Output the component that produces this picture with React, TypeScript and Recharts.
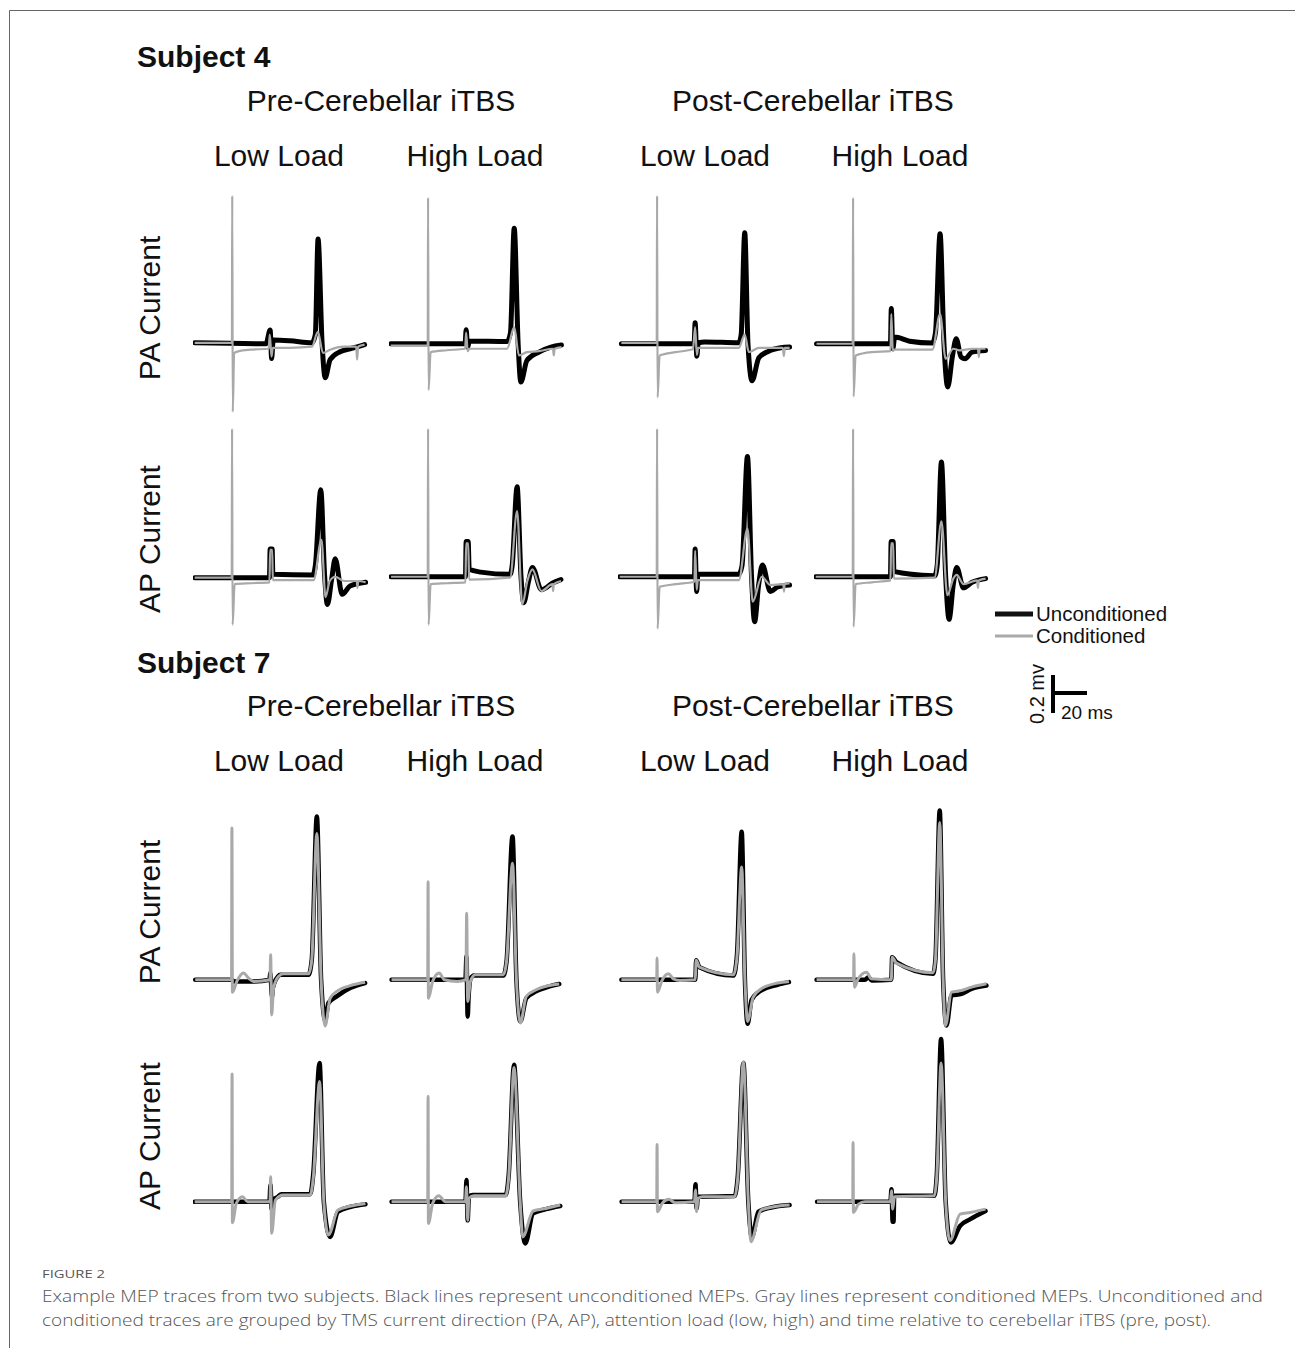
import { Line, LineChart, XAxis, YAxis } from "recharts";

// time in ms relative to the TMS pulse, amplitude in mV
// S4 = Subject 4, S7 = Subject 7; PA / AP current; pre/post iTBS; low/high load
const s4PaPreLowUnc = [[-45,0.005],[-3,0],[-0.6,0.075],[0.3,-0.08],[1.2,0.02],[11,0.016],[24,0.005],[26,0.05],[27.6,0.566],[30,0],[31.8,-0.184],[34.7,-0.086],[40.6,-0.043],[46.5,-0.027],[51,-0.016],[55,-0.005]];
const s4PaPreLowCon = [[-45,0.005],[-23.1,0.005],[-22.9,0.8],[-22.6,-0.368],[-21.8,-0.05],[-19,-0.04],[-12,-0.032],[-1.5,-0.027],[-0.8,0.05],[0.2,-0.07],[1,-0.022],[11,-0.022],[24,-0.016],[27.5,0.065],[30.5,-0.05],[34.7,-0.032],[43,-0.016],[50,-0.016],[50.6,-0.085],[51.2,-0.016],[55,-0.005]];

const s4PaPreHighUnc = [[-45,0],[-1.2,0],[-0.6,0.076],[0.3,-0.02],[1.2,0.014],[23.5,0.012],[25.5,0.06],[27.7,0.625],[30,0],[31.6,-0.207],[35.2,-0.09],[42.3,-0.045],[49.3,-0.018],[55.5,-0.007]];
const s4PaPreHighCon = [[-45,-0.01],[-23.2,-0.01],[-23,0.79],[-22.7,-0.25],[-21.5,-0.045],[-12,-0.035],[-1.2,-0.027],[-0.6,0.06],[0.3,-0.04],[1.2,-0.027],[23.5,-0.027],[27.7,0.09],[30.5,-0.063],[35.2,-0.045],[42.3,-0.04],[50.5,-0.027],[51,-0.063],[51.5,-0.027],[55.5,-0.018]];

const s4PaPostLowUnc = [[-44,0],[-1.2,0],[-0.6,0.113],[0.4,-0.067],[1.2,0.005],[5,0.01],[25.1,0.005],[26.5,0.05],[28.6,0.6],[30.5,0],[32.9,-0.2],[36.9,-0.076],[42.7,-0.04],[49.8,-0.022],[55,-0.018]];
const s4PaPostLowCon = [[-44,0.005],[-23.2,0.005],[-23,0.8],[-22.7,-0.29],[-21.5,-0.063],[-12,-0.045],[-1.9,-0.03],[-0.6,0.09],[0.4,-0.06],[1.2,-0.022],[25.1,-0.022],[28.6,0.05],[31,-0.045],[37,-0.022],[51,-0.022],[51.6,-0.067],[52.2,-0.022],[55,-0.022]];

const s4PaPostHighUnc = [[-44.5,0],[-1,0],[-0.5,0.19],[0.4,-0.027],[1.5,0.036],[10.2,0.014],[23.7,0.004],[25.5,0.06],[28.2,0.595],[30.5,0],[32.7,-0.234],[35.4,-0.072],[37.7,0.027],[40.6,-0.072],[43,-0.081],[47,-0.045],[55,-0.036]];
const s4PaPostHighCon = [[-44.5,0],[-23.2,0],[-23,0.79],[-22.7,-0.285],[-21.5,-0.063],[-12,-0.045],[-1,-0.04],[-0.5,0.16],[0.4,-0.04],[1.5,-0.032],[23.7,-0.032],[28.2,0.16],[31.5,-0.081],[36,-0.027],[39.5,-0.036],[47,-0.027],[50.5,-0.027],[51,-0.072],[51.5,-0.027],[55,-0.027]];

const s4ApPreLowUnc = [[-45,-0.005],[-1,-0.005],[-0.6,0.15],[0.6,0.15],[1,0.013],[24.6,0.009],[26,0.06],[29.2,0.47],[31.5,0],[33.1,-0.15],[35.5,-0.02],[37.7,0.097],[41.8,-0.095],[46.4,-0.05],[55.6,-0.03]];
const s4ApPreLowCon = [[-45,-0.005],[-23.2,-0.005],[-23,0.8],[-22.7,-0.26],[-21.5,-0.04],[-12,-0.035],[-1,-0.03],[-0.6,0.145],[0.6,0.145],[1,-0.018],[25,-0.018],[29.6,0.2],[32,-0.11],[34.5,-0.023],[37.7,0],[43,-0.023],[50.4,-0.023],[50.8,-0.06],[51.2,-0.023],[55.6,-0.03]];

const s4ApPreHighUnc = [[-44.8,0],[-1,0],[-0.6,0.19],[0.6,0.19],[1.2,0.04],[8,0.025],[25.3,0.013],[26.5,0.06],[29.4,0.486],[31.7,0],[33.3,-0.14],[36,-0.03],[38.4,0.05],[43.7,-0.07],[50.6,-0.032],[55.2,-0.015]];
const s4ApPreHighCon = [[-44.8,0],[-23.2,0],[-23,0.8],[-22.7,-0.26],[-21.5,-0.04],[-12,-0.035],[-1,-0.03],[-0.6,0.18],[0.6,0.18],[1.2,-0.015],[25.3,-0.005],[29.4,0.355],[32.4,-0.15],[35.5,-0.02],[38.4,0.04],[43.7,-0.077],[50.2,-0.04],[50.6,-0.077],[51,-0.04],[55.2,-0.023]];

const s4ApPostLowUnc = [[-45,0],[-1,0],[-0.6,0.15],[0.3,-0.08],[1,0.013],[25.1,0.013],[27,0.06],[30.2,0.65],[32.6,0],[34.4,-0.243],[36.7,-0.05],[39,0.063],[43.7,-0.08],[48,-0.055],[55,-0.045]];
const s4ApPostLowCon = [[-45,0],[-23.2,0],[-23,0.8],[-22.7,-0.28],[-21.5,-0.054],[-12,-0.04],[-1,-0.027],[-0.6,0.14],[0.3,-0.07],[1,-0.018],[25.1,-0.018],[30.2,0.26],[33.3,-0.135],[38.6,0],[43.7,-0.045],[51.3,-0.04],[51.7,-0.08],[52.1,-0.04],[55,-0.036]];

const s4ApPostHighUnc = [[-45,0],[-1,0],[-0.6,0.19],[0.6,0.19],[1,0.03],[10,0.015],[25,0.005],[26.5,0.06],[29,0.62],[31.5,0],[33.5,-0.23],[36,-0.04],[38,0.05],[42,-0.06],[47,-0.03],[55,-0.01]];
const s4ApPostHighCon = [[-45,0],[-23.2,0],[-23,0.8],[-22.7,-0.27],[-21.5,-0.04],[-12,-0.03],[-1,-0.02],[-0.6,0.18],[0.6,0.18],[1,-0.01],[25,-0.005],[29,0.3],[32.5,-0.1],[36,-0.01],[38,0.01],[42,-0.04],[50,-0.02],[50.5,-0.06],[51,-0.02],[55,-0.01]];

const s7PaPreLowUnc = [[-44.7,0],[-23,0],[-22,-0.01],[-10,-0.009],[-1,0],[-0.5,0.036],[0.5,-0.09],[1,-0.045],[4,0.018],[5.5,0.027],[22,0.027],[23.9,0.108],[26.9,0.883],[29.4,0],[31.8,-0.216],[33.7,-0.126],[38.6,-0.09],[46.5,-0.045],[55.3,-0.018]];
const s7PaPreLowCon = [[-44.7,0],[-23.3,0],[-23.1,0.82],[-22.8,-0.068],[-20.2,-0.009],[-16.3,0.036],[-13.3,0.009],[-10.4,-0.009],[-0.7,0],[-0.3,0.135],[0.3,-0.19],[1.4,-0.045],[4.3,0.018],[7.2,0.032],[22,0.032],[23.9,0.108],[26.9,0.79],[29.4,0],[31.8,-0.25],[34.7,-0.1],[38.6,-0.063],[46.5,-0.032],[55.3,-0.014]];

const s7PaPreHighUnc = [[-44.5,0],[-1,0],[-0.4,0.126],[0.3,-0.2],[0.8,-0.1],[2,0.005],[4,0.023],[21.3,0.023],[23.2,0.1],[26.7,0.775],[29,0],[31.3,-0.225],[34.8,-0.1],[40.6,-0.063],[48.4,-0.036],[54.2,-0.023]];
const s7PaPreHighCon = [[-44.5,0],[-23.2,0],[-23,0.53],[-22.8,-0.1],[-20.3,-0.009],[-16.4,0.036],[-13.5,0],[-5.8,-0.009],[-0.7,0],[-0.3,0.36],[0.3,-0.117],[1.9,-0.009],[4.8,0.027],[21.3,0.027],[23.2,0.1],[26.7,0.63],[29,0],[31.3,-0.234],[34.8,-0.09],[40.6,-0.054],[48.4,-0.031],[54.2,-0.023]];

const s7PaPostLowUnc = [[-44,0],[-0.5,0],[0,0.105],[1.9,0.068],[22,0.023],[24,0.131],[26.8,0.8],[28.7,0],[30.3,-0.238],[32.6,-0.11],[38.3,-0.058],[47.9,-0.027],[54.6,-0.013]];
const s7PaPostLowCon = [[-44,0],[-23.2,0],[-23,0.117],[-22.8,-0.067],[-20.1,-0.004],[-16.3,0.032],[-13.4,0.005],[-9.6,-0.004],[-0.5,0],[0,0.105],[1.9,0.068],[22,0.027],[24,0.12],[26.8,0.61],[28.7,0],[30.3,-0.225],[33.5,-0.095],[38.3,-0.049],[47.9,-0.018],[54.6,-0.009]];

const s7PaPostHighUnc = [[-44.5,0],[-16,0],[-14,0.014],[-12,-0.004],[-0.5,0],[0,0.122],[2.5,0.095],[24.1,0.032],[25.5,0.114],[28,0.915],[30,0],[32,-0.247],[34.9,-0.085],[40.8,-0.076],[46.7,-0.049],[55.5,-0.031]];
const s7PaPostHighCon = [[-44.5,0],[-22.7,0],[-22.5,0.14],[-22.2,-0.04],[-20,0.005],[-15.1,0.041],[-12.2,0.005],[-0.5,0],[0,0.122],[2.5,0.09],[24.1,0.038],[25.5,0.11],[28,0.85],[30,0],[31.4,-0.247],[34.9,-0.067],[40.8,-0.058],[46.7,-0.04],[55.5,-0.022]];

const s7ApPreLowUnc = [[-45,0],[-1,0],[-0.4,0.09],[0.3,-0.04],[1,0.01],[4,0.027],[6,0.041],[23,0.041],[24.8,0.153],[28.5,0.75],[31,0],[34.7,-0.19],[39.3,-0.054],[47,-0.027],[55.5,-0.013]];
const s7ApPreLowCon = [[-45,0],[-23.2,0],[-23,0.69],[-22.8,-0.113],[-20.5,-0.009],[-16.9,0.027],[-13.8,0],[-5,0],[-0.7,0],[-0.3,0.135],[0.3,-0.17],[2.5,0.009],[7,0.036],[23,0.036],[24.8,0.13],[28.5,0.65],[31,0],[33.7,-0.18],[39.3,-0.045],[47,-0.023],[55.5,-0.009]];

const s7ApPreHighUnc = [[-44.5,0],[-1,0],[-0.4,0.117],[0.3,-0.1],[1,0.027],[3.3,0.036],[22.7,0.036],[24.5,0.15],[27.6,0.74],[31.2,0],[34.2,-0.225],[38.8,-0.063],[46.4,-0.04],[54.8,-0.023]];
const s7ApPreHighCon = [[-44.5,0],[-23.2,0],[-23,0.57],[-22.8,-0.117],[-20.3,-0.009],[-16.7,0.032],[-12.7,0],[-1,0],[-0.4,0.081],[0.3,-0.1],[1,0.018],[3.9,0.032],[22.7,0.032],[24.5,0.14],[27.6,0.726],[31.2,0],[32.7,-0.19],[38.8,-0.05],[46.4,-0.036],[54.8,-0.018]];

const s7ApPostLowUnc = [[-43.9,0],[-1,0],[-0.4,0.095],[0.3,-0.036],[1,0.027],[3,0.027],[22.7,0.031],[24.5,0.14],[27.8,0.75],[30.7,0],[32.8,-0.19],[36.7,-0.054],[44.2,-0.031],[55,-0.018]];
const s7ApPostLowCon = [[-43.9,0],[-23.2,0],[-23,0.31],[-22.8,-0.054],[-20,-0.009],[-16.1,0.013],[-12.5,-0.005],[-1,0],[-0.4,0.063],[0.3,-0.054],[1,0.018],[3.9,0.027],[22.7,0.027],[24.5,0.13],[27.8,0.757],[30.7,0],[32.2,-0.216],[38.2,-0.045],[45.7,-0.027],[55,-0.018]];

const s7ApPostHighUnc = [[-44.2,0],[-1,0],[-0.4,0.068],[0.3,-0.108],[0.8,-0.108],[1.2,0.032],[24.8,0.032],[26.3,0.15],[28.8,0.88],[31.5,0],[34.5,-0.22],[40,-0.13],[46,-0.094],[55,-0.05]];
const s7ApPostHighCon = [[-44.2,0],[-23.2,0],[-23,0.32],[-22.8,-0.058],[-19.8,-0.013],[-16,0],[-1,0],[-0.4,0.06],[0.3,-0.04],[1.4,0.027],[24.8,0.032],[26.3,0.14],[28.8,0.75],[31.5,0],[34,-0.21],[40,-0.067],[46,-0.058],[55,-0.04]];

const rowLabels = ["PA Current", "AP Current"];
const timeLabels = ["Pre-Cerebellar iTBS", "Post-Cerebellar iTBS"];
const loadLabels = ["Low Load", "High Load", "Low Load", "High Load"];

const colTms = [271, 467, 696, 892];
const rowBase = [344, 577, 980, 1202];

const panels = [
  [s4PaPreLowUnc, s4PaPreLowCon], [s4PaPreHighUnc, s4PaPreHighCon], [s4PaPostLowUnc, s4PaPostLowCon], [s4PaPostHighUnc, s4PaPostHighCon],
  [s4ApPreLowUnc, s4ApPreLowCon], [s4ApPreHighUnc, s4ApPreHighCon], [s4ApPostLowUnc, s4ApPostLowCon], [s4ApPostHighUnc, s4ApPostHighCon],
  [s7PaPreLowUnc, s7PaPreLowCon], [s7PaPreHighUnc, s7PaPreHighCon], [s7PaPostLowUnc, s7PaPostLowCon], [s7PaPostHighUnc, s7PaPostHighCon],
  [s7ApPreLowUnc, s7ApPreLowCon], [s7ApPreHighUnc, s7ApPreHighCon], [s7ApPostLowUnc, s7ApPostLowCon], [s7ApPostHighUnc, s7ApPostHighCon],
];

const PX_MS = 1.7;
const PX_MV = 185;
const T0 = -46, T1 = 57;
const V0 = -0.45, V1 = 0.95;
const FONT = "'Liberation Sans', Arial, sans-serif";
const GRAY = "#a9a9a9";

const pts = (a: number[][]) => a.map(([t, v]) => ({ t, v }));

function Trace({ tms, base, unc, con, s7 }: { tms: number; base: number; unc: number[][]; con: number[][]; s7: boolean }) {
  const w = Math.round((T1 - T0) * PX_MS);
  const h = Math.round((V1 - V0) * PX_MV);
  return (
    <div style={{ position: "absolute", left: tms + T0 * PX_MS, top: base - V1 * PX_MV }}>
      <LineChart width={w} height={h} margin={{ top: 0, right: 0, bottom: 0, left: 0 }}>
        <XAxis type="number" dataKey="t" domain={[T0, T1]} hide allowDataOverflow />
        <YAxis type="number" domain={[V0, V1]} hide allowDataOverflow />
        <Line data={pts(unc)} dataKey="v" type="monotone" stroke="#000" strokeWidth={s7 ? 4.5 : 5}
          strokeLinejoin="round" strokeLinecap="round" dot={false} isAnimationActive={false} />
        <Line data={pts(con)} dataKey="v" type="monotone" stroke={GRAY} strokeWidth={s7 ? 3 : 2.2}
          strokeLinejoin="round" dot={false} isAnimationActive={false} />
      </LineChart>
    </div>
  );
}

function Headers({ y }: { y: number }) {
  return (
    <g fontFamily={FONT} fontSize={30} fill="#111" textAnchor="middle">
      <text x={381} y={y}>{timeLabels[0]}</text>
      <text x={813} y={y}>{timeLabels[1]}</text>
      {loadLabels.map((l, i) => (
        <text key={i} x={[279, 475, 705, 900][i]} y={y + 55}>{l}</text>
      ))}
    </g>
  );
}

export default function App() {
  return (
    <div style={{ position: "absolute", left: 0, top: 0, width: 1295, height: 1348, background: "#fff" }}>
      <svg width={1295} height={1348} style={{ position: "absolute", left: 0, top: 0 }}>
        <line x1={9.5} y1={10.5} x2={1295} y2={10.5} stroke="#666" strokeWidth={1} />
        <line x1={9.5} y1={10.5} x2={9.5} y2={1348} stroke="#666" strokeWidth={1} />

        <text x={137} y={67} fontFamily={FONT} fontSize={30} fontWeight="bold" fill="#111">Subject 4</text>
        <text x={137} y={673} fontFamily={FONT} fontSize={30} fontWeight="bold" fill="#111">Subject 7</text>
        <Headers y={111} />
        <Headers y={716} />

        {[308, 539, 912, 1136].map((cy, i) => (
          <text key={i} transform={`translate(160, ${cy}) rotate(-90)`} textAnchor="middle"
            fontFamily={FONT} fontSize={30} fill="#111">{rowLabels[i % 2]}</text>
        ))}

        <line x1={995} y1={614} x2={1033} y2={614} stroke="#111" strokeWidth={5} />
        <text x={1036} y={621} fontFamily={FONT} fontSize={20.5} fill="#111">Unconditioned</text>
        <line x1={995} y1={636} x2={1033} y2={636} stroke={GRAY} strokeWidth={3} />
        <text x={1036} y={643} fontFamily={FONT} fontSize={20.5} fill="#111">Conditioned</text>

        <line x1={1053} y1={675} x2={1053} y2={713} stroke="#000" strokeWidth={4} />
        <line x1={1051} y1={693} x2={1087} y2={693} stroke="#000" strokeWidth={4} />
        <text transform="translate(1044, 694) rotate(-90)" textAnchor="middle" fontFamily={FONT} fontSize={20} fill="#111">0.2 mv</text>
        <text x={1061} y={719} fontFamily={FONT} fontSize={19} fill="#111">20 ms</text>

        <text x={42} y={1278} fontFamily="'Open Sans', sans-serif" fontSize={11} fill="#555"
          textLength={63} lengthAdjust="spacingAndGlyphs">FIGURE 2</text>
        <text x={42} y={1302} fontFamily="'Open Sans', sans-serif" fontWeight={300} fontSize={17} fill="#555"
          textLength={1221} lengthAdjust="spacingAndGlyphs">
          Example MEP traces from two subjects. Black lines represent unconditioned MEPs. Gray lines represent conditioned MEPs. Unconditioned and
        </text>
        <text x={42} y={1326} fontFamily="'Open Sans', sans-serif" fontWeight={300} fontSize={17} fill="#555"
          textLength={1169} lengthAdjust="spacingAndGlyphs">
          conditioned traces are grouped by TMS current direction (PA, AP), attention load (low, high) and time relative to cerebellar iTBS (pre, post).
        </text>
      </svg>

      {panels.map(([unc, con], i) => (
        <Trace key={i} tms={colTms[i % 4]} base={rowBase[Math.floor(i / 4)]} unc={unc} con={con} s7={i >= 8} />
      ))}
    </div>
  );
}
